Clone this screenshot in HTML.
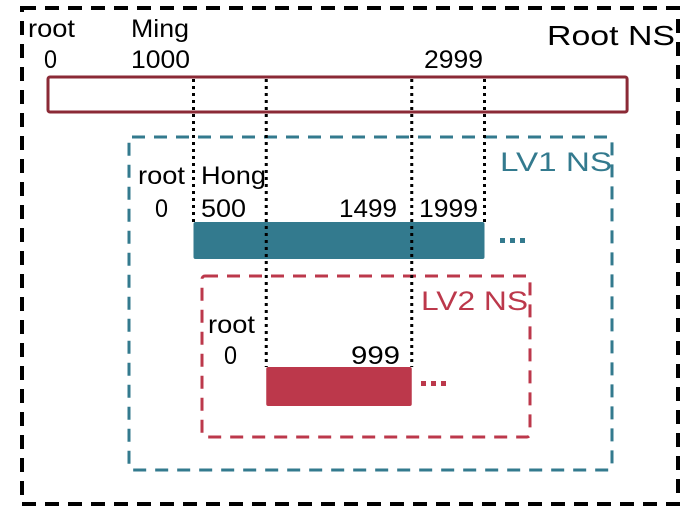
<!DOCTYPE html>
<html><head><meta charset="utf-8"><style>
html,body{margin:0;padding:0;background:#fff;width:686px;height:508px;overflow:hidden}
text{font-family:"Liberation Sans",Arial,sans-serif;font-size:25px}
</style></head><body>
<svg id="s" width="686" height="508" viewBox="0 0 686 508">
<rect x="22" y="8" width="656" height="496" fill="none" stroke="#000" stroke-width="4" stroke-dasharray="14,9"/>
<text x="547" y="45" textLength="128" lengthAdjust="spacingAndGlyphs" style="font-size:28px">Root NS</text>
<rect x="129" y="137" width="483" height="333" rx="3" fill="none" stroke="#337a8e" stroke-width="3" stroke-dasharray="13,9"/>
<text x="500" y="171" textLength="112" lengthAdjust="spacingAndGlyphs" fill="#337a8e" style="font-size:27px">LV1 NS</text>
<rect x="202" y="276" width="328" height="161" rx="3" fill="none" stroke="#bc384b" stroke-width="3" stroke-dasharray="13,9"/>
<text x="421" y="310" textLength="107" lengthAdjust="spacingAndGlyphs" fill="#bc384b" style="font-size:27px">LV2 NS</text>
<g id="bars"></g>
<g id="guides"></g>
<text x="28" y="37" textLength="47" lengthAdjust="spacingAndGlyphs">root</text>
<text x="44" y="68" textLength="13" lengthAdjust="spacingAndGlyphs">0</text>
<text x="131" y="37" textLength="58" lengthAdjust="spacingAndGlyphs">Ming</text>
<text x="131" y="68" textLength="59" lengthAdjust="spacingAndGlyphs">1000</text>
<text x="424" y="68" textLength="59" lengthAdjust="spacingAndGlyphs">2999</text>
<text x="138" y="184" textLength="47" lengthAdjust="spacingAndGlyphs">root</text>
<text x="155" y="217" textLength="13" lengthAdjust="spacingAndGlyphs">0</text>
<text x="201" y="184" textLength="65" lengthAdjust="spacingAndGlyphs">Hong</text>
<text x="201" y="217" textLength="45" lengthAdjust="spacingAndGlyphs">500</text>
<text x="339" y="217" textLength="58" lengthAdjust="spacingAndGlyphs">1499</text>
<text x="419" y="217" textLength="59" lengthAdjust="spacingAndGlyphs">1999</text>
<g fill="#337a8e"><rect x="500" y="238" width="5" height="5"/><rect x="510" y="238" width="5" height="5"/><rect x="520" y="238" width="5" height="5"/></g>
<text x="208" y="333" textLength="47" lengthAdjust="spacingAndGlyphs">root</text>
<text x="224" y="364" textLength="13" lengthAdjust="spacingAndGlyphs">0</text>
<text x="351" y="364" textLength="49" lengthAdjust="spacingAndGlyphs">999</text>
<g fill="#bc384b"><rect x="421" y="381" width="5" height="5"/><rect x="431" y="381" width="5" height="5"/><rect x="441" y="381" width="5" height="5"/></g>
</svg>
<script>
const barNames = ["root-range-bar","lv1-range-bar","lv2-range-bar"];
const barStarts = [0, 1000, 1500];
const barEnds = [3979, 2999, 2499];
const guideValues = [1000, 1500, 2500, 3000];
const guideEnds = ["lv1","lv2","lv2","lv1"];
// axis: root uid -> pixel
const x0 = 48, pxPerUid = 0.1455;
function X(v){ return x0 + v * pxPerUid; }
const rows = [{y:77,h:35,fill:"none",stroke:"#8b2a36"},{y:222,h:37,fill:"#337a8e",stroke:"none"},{y:367,h:39,fill:"#bc384b",stroke:"none"}];
const ns="http://www.w3.org/2000/svg";
const gb=document.getElementById("bars"), gg=document.getElementById("guides");
barNames.forEach((n,i)=>{
  const r=document.createElementNS(ns,"rect");
  const a=X(barStarts[i]), b=X(barEnds[i]+1);
  r.setAttribute("x",a); r.setAttribute("y",rows[i].y);
  r.setAttribute("width",b-a); r.setAttribute("height",rows[i].h);
  r.setAttribute("rx",2);
  r.setAttribute("fill",rows[i].fill); r.setAttribute("stroke",rows[i].stroke);
  r.setAttribute("stroke-width",3);
  
  
  gb.appendChild(r);
});
guideValues.forEach((v,i)=>{
  const l=document.createElementNS(ns,"line");
  const x=X(v);
  l.setAttribute("x1",x); l.setAttribute("x2",x);
  l.setAttribute("y1",79); l.setAttribute("y2",guideEnds[i]==="lv1"?222:367);
  l.setAttribute("stroke","#000"); l.setAttribute("stroke-width",3);
  l.setAttribute("stroke-dasharray","3,4");
  
  
  gg.appendChild(l);
});
</script>
</body></html>
